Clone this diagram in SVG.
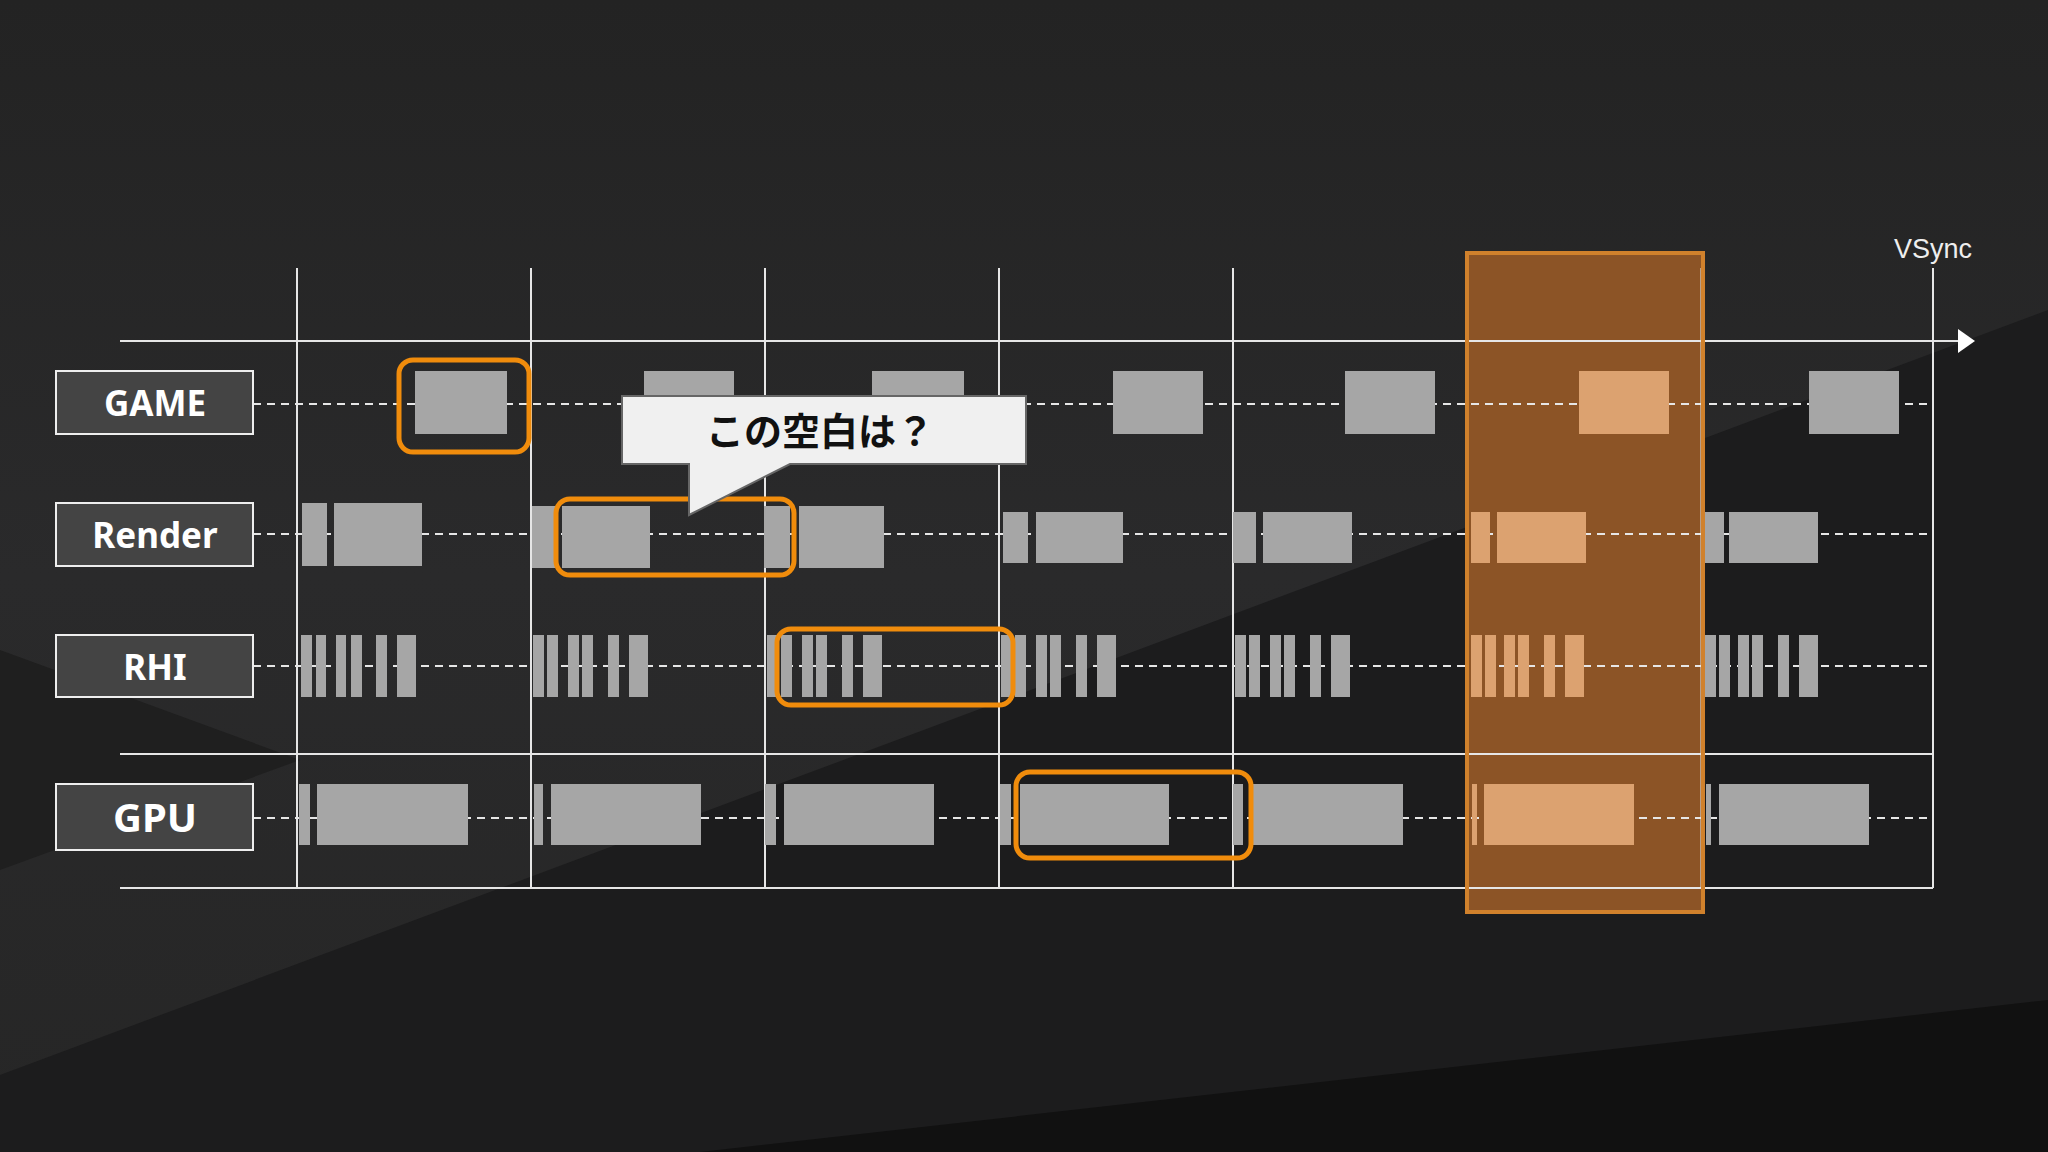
<svg xmlns="http://www.w3.org/2000/svg" width="2048" height="1152" viewBox="0 0 2048 1152">
<defs>
<linearGradient id="bg" x1="0" y1="0" x2="0" y2="1"><stop offset="0" stop-color="#232323"/><stop offset="0.5" stop-color="#2a2a2b"/><stop offset="1" stop-color="#262626"/></linearGradient>
<style>
.lbl rect{fill:#444;stroke:#eee;stroke-width:2}
.lbl text{fill:#fff;font-family:"Noto Sans","Liberation Sans",sans-serif;font-weight:bold;text-anchor:middle}
.grid{stroke:#e6e6e6;stroke-width:2;fill:none}
.dash{stroke:#e6e6e6;stroke-width:2;stroke-dasharray:8 6;fill:none}
.b{fill:#a6a6a6}
.o{fill:#dca270}
.hl{fill:none;stroke:#f08c0c;stroke-width:5}
</style>
</defs>
<rect width="2048" height="1152" fill="url(#bg)"/>
<polygon points="0,650 300,760 0,870" fill="#1f1f1f"/>
<polygon points="2048,310 2048,1152 0,1152 0,1075" fill="#1c1c1d"/>
<polygon points="2048,1000 2048,1152 700,1152" fill="#111"/>
<rect x="1467" y="253" width="236" height="659" fill="#8c5426"/>
<g id="connectors">
<line class="grid" x1="120" y1="341" x2="1962" y2="341"/>
<polygon points="1958,329 1975,341 1958,353" fill="#fff"/>
<line class="grid" x1="120" y1="754" x2="1933" y2="754"/>
<line class="grid" x1="120" y1="888" x2="1933" y2="888"/>
<g class="grid">
<line x1="297" y1="268" x2="297" y2="888"/><line x1="531" y1="268" x2="531" y2="888"/><line x1="765" y1="268" x2="765" y2="888"/><line x1="999" y1="268" x2="999" y2="888"/><line x1="1233" y1="268" x2="1233" y2="888"/><line x1="1467" y1="268" x2="1467" y2="888" opacity="0.5"/><line x1="1701" y1="268" x2="1701" y2="888" opacity="0.5"/><line x1="1933" y1="268" x2="1933" y2="888"/>
</g>
<g class="dash">
<line x1="253" y1="404" x2="1933" y2="404"/><line x1="253" y1="534" x2="1933" y2="534"/><line x1="253" y1="666" x2="1933" y2="666"/><line x1="253" y1="818" x2="1933" y2="818"/>
</g>
</g>
<text x="1933" y="258" fill="#eee" font-family="Liberation Sans,Arial,sans-serif" font-size="27" text-anchor="middle">VSync</text>
<g id="game-blocks">
<rect class="b" x="415" y="371" width="92" height="63"/><rect class="b" x="644" y="371" width="90" height="63"/><rect class="b" x="872" y="371" width="92" height="63"/><rect class="b" x="1113" y="371" width="90" height="63"/><rect class="b" x="1345" y="371" width="90" height="63"/><rect class="o" x="1579" y="371" width="90" height="63"/><rect class="b" x="1809" y="371" width="90" height="63"/>
</g>
<g id="render-blocks">
<rect class="b" x="302" y="503" width="25" height="63"/><rect class="b" x="334" y="503" width="88" height="63"/>
<rect class="b" x="532" y="506" width="26" height="62"/><rect class="b" x="562" y="506" width="88" height="62"/>
<rect class="b" x="764" y="506" width="26" height="62"/><rect class="b" x="799" y="506" width="85" height="62"/>
<rect class="b" x="1003" y="512" width="25" height="51"/><rect class="b" x="1036" y="512" width="87" height="51"/>
<rect class="b" x="1233" y="512" width="23" height="51"/><rect class="b" x="1263" y="512" width="89" height="51"/>
<rect class="o" x="1471" y="512" width="19" height="51"/><rect class="o" x="1497" y="512" width="89" height="51"/>
<rect class="b" x="1704" y="512" width="20" height="51"/><rect class="b" x="1729" y="512" width="89" height="51"/>
</g>
<g id="rhi-blocks">
<g class="b" transform="translate(297 0)"><rect x="4" y="635" width="11" height="62"/><rect x="19" y="635" width="10" height="62"/><rect x="39" y="635" width="10" height="62"/><rect x="54" y="635" width="11" height="62"/><rect x="79" y="635" width="11" height="62"/><rect x="100" y="635" width="19" height="62"/></g>
<g class="b" transform="translate(531 0)"><rect x="2" y="635" width="11" height="62"/><rect x="16" y="635" width="11" height="62"/><rect x="37" y="635" width="11" height="62"/><rect x="51" y="635" width="11" height="62"/><rect x="77" y="635" width="11" height="62"/><rect x="98" y="635" width="19" height="62"/></g>
<g class="b" transform="translate(765 0)"><rect x="2" y="635" width="11" height="62"/><rect x="16" y="635" width="11" height="62"/><rect x="37" y="635" width="11" height="62"/><rect x="51" y="635" width="11" height="62"/><rect x="77" y="635" width="11" height="62"/><rect x="98" y="635" width="19" height="62"/></g>
<g class="b" transform="translate(999 0)"><rect x="2" y="635" width="11" height="62"/><rect x="16" y="635" width="11" height="62"/><rect x="37" y="635" width="11" height="62"/><rect x="51" y="635" width="11" height="62"/><rect x="77" y="635" width="11" height="62"/><rect x="98" y="635" width="19" height="62"/></g>
<g class="b" transform="translate(1233 0)"><rect x="2" y="635" width="11" height="62"/><rect x="16" y="635" width="11" height="62"/><rect x="37" y="635" width="11" height="62"/><rect x="51" y="635" width="11" height="62"/><rect x="77" y="635" width="11" height="62"/><rect x="98" y="635" width="19" height="62"/></g>
<g class="o" transform="translate(1467 0)"><rect x="4" y="635" width="11" height="62"/><rect x="18" y="635" width="11" height="62"/><rect x="37" y="635" width="11" height="62"/><rect x="51" y="635" width="11" height="62"/><rect x="77" y="635" width="11" height="62"/><rect x="98" y="635" width="19" height="62"/></g>
<g class="b" transform="translate(1701 0)"><rect x="4" y="635" width="11" height="62"/><rect x="18" y="635" width="11" height="62"/><rect x="37" y="635" width="11" height="62"/><rect x="51" y="635" width="11" height="62"/><rect x="77" y="635" width="11" height="62"/><rect x="98" y="635" width="19" height="62"/></g>
</g>
<g id="gpu-blocks">
<rect class="b" x="299" y="784" width="11" height="61"/><rect class="b" x="317" y="784" width="151" height="61"/>
<rect class="b" x="534" y="784" width="9" height="61"/><rect class="b" x="551" y="784" width="150" height="61"/>
<rect class="b" x="765" y="784" width="11" height="61"/><rect class="b" x="784" y="784" width="150" height="61"/>
<rect class="b" x="1000" y="784" width="11" height="61"/><rect class="b" x="1020" y="784" width="149" height="61"/>
<rect class="b" x="1233" y="784" width="10" height="61"/><rect class="b" x="1252" y="784" width="151" height="61"/>
<rect class="o" x="1472" y="784" width="5" height="61"/><rect class="o" x="1484" y="784" width="150" height="61"/>
<rect class="b" x="1706" y="784" width="5" height="61"/><rect class="b" x="1719" y="784" width="150" height="61"/>
</g>
<rect x="1467" y="253" width="236" height="659" fill="none" stroke="#d0812c" stroke-width="4"/>
<g id="label-game" class="lbl"><rect x="56" y="371" width="197" height="63"/><text x="155" y="416" font-size="35">GAME</text></g>
<g id="label-render" class="lbl"><rect x="56" y="503" width="197" height="63"/><text x="155" y="548" font-size="35">Render</text></g>
<g id="label-rhi" class="lbl"><rect x="56" y="635" width="197" height="62"/><text x="155" y="680" font-size="35">RHI</text></g>
<g id="label-gpu" class="lbl"><rect x="56" y="784" width="197" height="66"/><text x="155" y="832" font-size="40">GPU</text></g>
<g id="highlights" class="hl">
<rect x="399" y="360" width="130" height="92" rx="14"/>
<rect x="556" y="499" width="238" height="76" rx="14"/>
<rect x="777" y="629" width="236" height="76" rx="14"/>
<rect x="1016" y="772" width="235" height="86" rx="14"/>
</g>
<g id="callout">
<path d="M622,396 H1026 V464 H790 L689,515 V464 H622 Z" fill="#f0f0f0" stroke="#666" stroke-width="2"/>
<text x="820" y="445" font-family="Noto Sans CJK JP,sans-serif" font-weight="bold" font-size="38" fill="#111" text-anchor="middle">この空白は？</text>
</g>
</svg>
